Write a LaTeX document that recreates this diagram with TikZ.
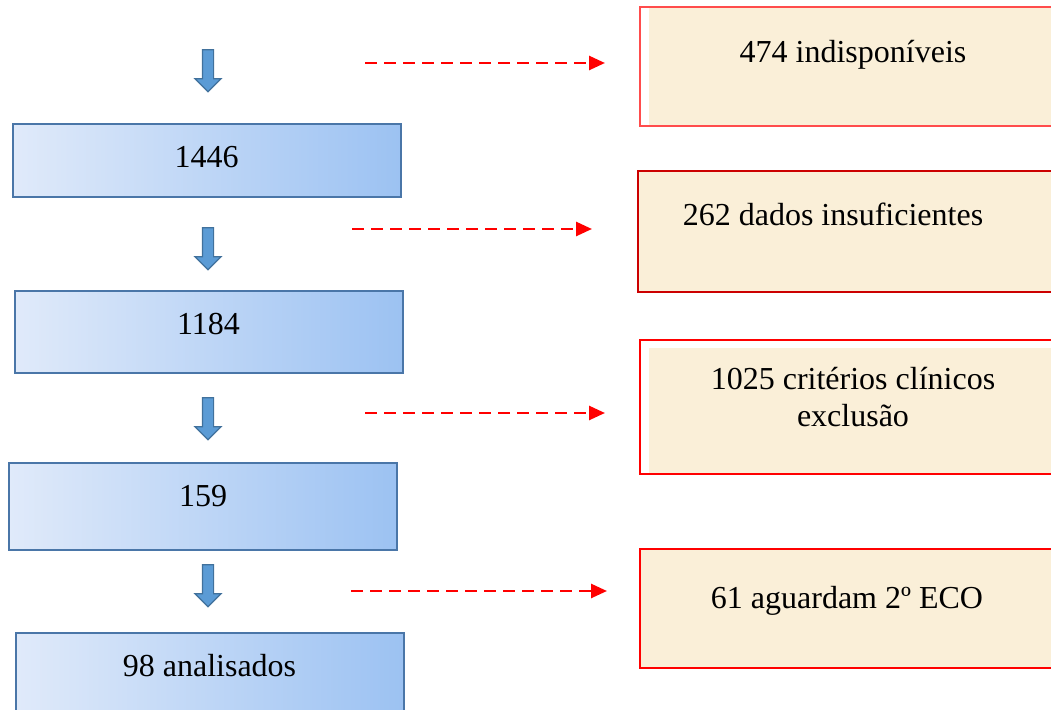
\documentclass[tikz,border=0pt]{standalone}
\usepackage{fontspec}
\setmainfont{Liberation Serif}
\usetikzlibrary{shapes.arrows,arrows.meta}
\definecolor{stageline}{HTML}{4A76A8}
\definecolor{stageleft}{HTML}{E0EAFA}
\definecolor{stageright}{HTML}{9CC2F2}
\definecolor{arrowfill}{HTML}{5B9BD5}
\definecolor{arrowline}{HTML}{41719C}
\definecolor{parchment}{HTML}{FAEFD8}
\begin{document}
\begin{tikzpicture}[x=0.5pt,y=-0.5pt,
        font=\fontsize{16}{18.5}\selectfont,
        stage/.style={rectangle,draw=stageline,line width=1pt,left color=stageleft,right color=stageright, minimum width=194pt,text height=12pt},
        excluded/.style={rectangle,draw=red,line width=1pt,fill=parchment, minimum width=220pt,text height=12pt,align=center},
        bareleft/.style={path picture={\fill[white] (path picture bounding box.north west) rectangle ([xshift=4.5pt]path picture bounding box.south west);}},
        baretop/.style={path picture={\fill[white] (path picture bounding box.north west) rectangle ([xshift=4.5pt]path picture bounding box.south west);
            \fill[white] (path picture bounding box.north west) rectangle ([yshift=-4pt]path picture bounding box.north east);}},
        down/.style={single arrow,draw=arrowline,fill=arrowfill,line width=0.6pt,rotate=-90, minimum height=21pt,minimum width=12.5pt,inner sep=2.5pt,single arrow head extend=3.75pt},
        drop/.style={red,line width=1.3pt,dash pattern=on 6pt off 3.5pt,-{Triangle[length=8pt,width=7pt]}}]

    \clip (0,0) rectangle (1051,710);

    % flow of patients
    \node[down] (a1) at (208,68) {};
    \node[stage,minimum height=36.5pt,text depth=4.5pt] (s1446) at (206.5,160.5) {1446};
    \node[down] (a2) at (208,246) {};
    \node[stage,minimum height=41pt,text depth=9pt] (s1184) at (208.5,332) {1184};
    \node[down] (a3) at (208,416) {};
    \node[stage,minimum height=43.5pt,text depth=11.5pt] (s159) at (203,506.5) {159};
    \node[down] (a4) at (208,583) {};
    \node[stage,minimum height=41.5pt,text depth=9.5pt] (s98) at (209.5,674.5) {98 analisados};

    % exclusions
    \node[excluded,bareleft,draw=red!70,minimum height=59.5pt,text depth=15.5pt] (x474) at (860,66.5) {474 indisponíveis\hspace*{7pt}};
    \node[excluded,draw=red!80!black,minimum height=60.5pt,text depth=17.5pt] (x262) at (858,231.5) {262 dados insuficientes\hspace*{25pt}};
    \node[excluded,baretop,minimum height=67pt,text height=30.5pt,text depth=10.5pt] (x1025) at (860,407) {1025 critérios clínicos\hspace*{7pt}\\exclusão\hspace*{7pt}};
    \node[excluded,minimum height=59.5pt,text depth=12pt] (x61) at (860,608.5) {61 aguardam 2º ECO\hspace*{13pt}};

    \coordinate (d1) at (365,63);   \coordinate (e1) at (605,63);
    \coordinate (d2) at (352,229);  \coordinate (e2) at (592,229);
    \coordinate (d3) at (365,413);  \coordinate (e3) at (605,413);
    \coordinate (d4) at (351,591);  \coordinate (e4) at (607,591);
    \draw[drop] (d1) -- (e1);
    \draw[drop] (d2) -- (e2);
    \draw[drop] (d3) -- (e3);
    \draw[drop] (d4) -- (e4);
\end{tikzpicture}
\end{document}
